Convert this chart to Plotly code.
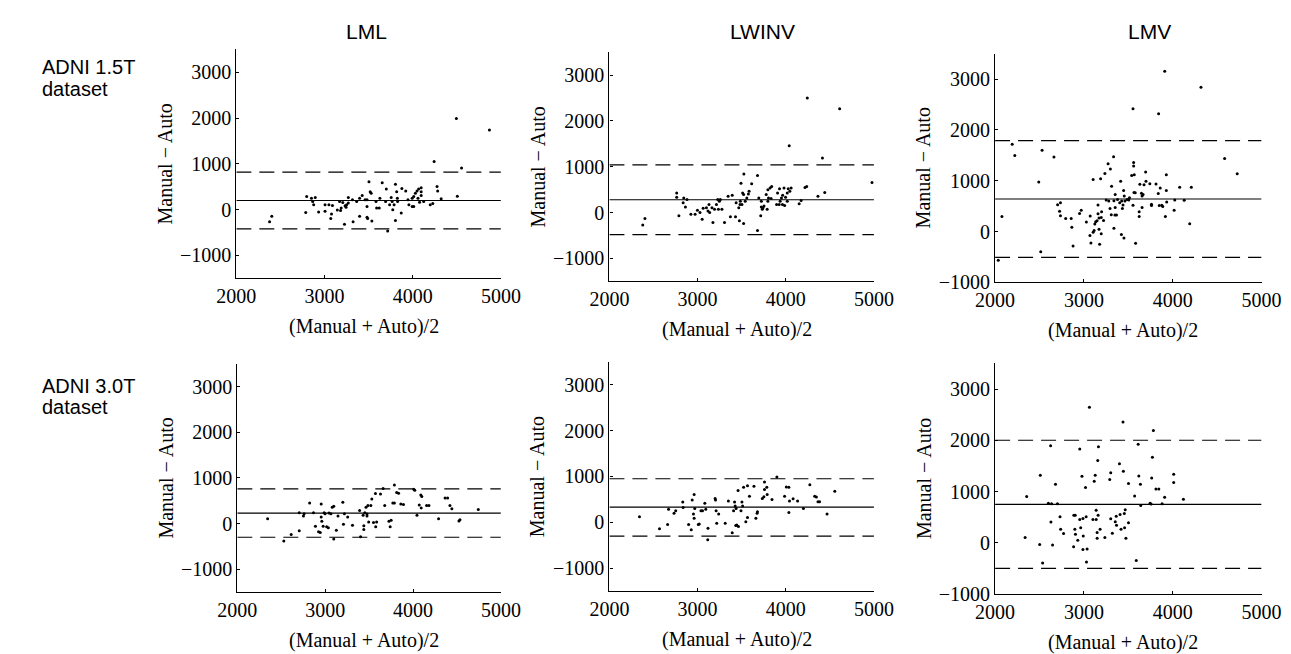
import plotly.graph_objects as go

W, H = 1291, 654

# ---------------- data ----------------
COLUMNS = ["LML", "LWINV", "LMV"]
ROWS = [["ADNI 1.5T", "dataset"], ["ADNI 3.0T", "dataset"]]
X_TICKS = [2000, 3000, 4000, 5000]
Y_TICKS = [-1000, 0, 1000, 2000, 3000]
X_TITLE = "(Manual + Auto)/2"
Y_TITLE = "Manual \u2212 Auto"

# ADNI 1.5T, LML
lml15_x = [4495, 4870, 4243, 4554, 4506, 4276, 4283, 4323, 4199, 4228, 3994, 4012, 4030, 4049, 4067,
           4096, 4096, 4096, 4078, 4125, 4060, 3994, 4012, 3957, 3946, 3921, 3877, 3870, 3818, 3804,
           3804, 3826, 3829, 3789, 3774, 3767, 3756, 3738, 3716, 3701, 3693, 3654, 3628, 3621, 3591,
           3584, 3537, 3529, 3518, 3504, 3482, 3482, 3489, 3460, 3482, 3427, 3398, 3398, 3365, 3317,
           3324, 3270, 3270, 3251, 3233, 3244, 3226, 3207, 3189, 3182, 3171, 3145, 3090, 3079, 3071,
           3050, 3006, 3006, 2933, 2877, 2866, 2895, 2852, 2787, 2798, 2402, 2377]
lml15_y = [1990, 1740, 1050, 907, 293, 507, 407, 236, 107, 136, 250, 286, 357, 407, 450,
           479, 393, 307, 164, 179, 250, 71, 71, 107, 214, 407, 464, -71, 393, 557,
           -236, 250, 179, 107, 0, 179, 264, 107, -464, 450, 179, 586, 250, 36, 36,
           179, -250, 357, 393, 607, 214, -164, -193, 214, 71, 307, 250, -143, 179, 214,
           -264, 264, 143, 107, 86, 50, -321, 157, 36, -21, 179, -7, 93, -93, -193,
           107, 107, -36, -50, 107, 179, 264, 250, -64, 286, -143, -264]
lml15_mean, lml15_upper, lml15_lower = 200, 820, -420

# ADNI 1.5T, LWINV
lwinv15_x = [4244, 4611, 4039, 4416, 4978, 4442, 4365, 4237, 4218, 4174, 4152, 4061, 4046, 4028, 4017,
             3998, 3980, 3965, 3962, 3987, 3951, 3936, 3929, 3907, 3896, 3925, 4017, 3840, 3822, 3797,
             3804, 3797, 3789, 3833, 3778, 3753, 3742, 3734, 3723, 3716, 3679, 3679, 3694, 3723, 3613,
             3584, 3576, 3558, 3540, 3525, 3511, 3522, 3492, 3481, 3503, 3485, 3467, 3437, 3430, 3474,
             3522, 3393, 3372, 3346, 3305, 3276, 3258, 3247, 3236, 3229, 3214, 3174, 3192, 3163, 3137,
             3129, 3118, 3100, 3063, 3052, 3027, 2998, 2972, 2924, 2880, 2843, 2836, 2862, 2788, 2763,
             2763, 2403, 2378]
lwinv15_y = [2500, 2264, 1457, 1193, 657, 436, 357, 571, 550, 264, 193, 536, 464, 521, 429,
             336, 536, 379, 179, 157, 321, 250, 521, 429, 179, 179, 250, 571, 536, 500,
             321, 250, 71, 307, 393, 143, 107, 71, 121, -71, -393, 807, 321, 250, 629,
             464, 407, 321, 250, 843, 429, 393, 643, 179, 179, 250, 107, 214, -93, -179,
             -236, 379, -93, 357, -214, 71, 286, 250, 71, 286, 179, -214, 71, 107, 0,
             179, 36, 107, 93, -143, 0, 50, -36, -36, 286, 321, 214, 121, -71, 429,
             336, -129, -271]
lwinv15_mean, lwinv15_upper, lwinv15_lower = 280, 1040, -480

# ADNI 1.5T, LMV
lmv15_x = [3910, 4318, 3553, 3841, 2193, 2222, 2529, 2663, 2492, 2077, 2036, 2514, 4584, 4726, 4209,
           4078, 4191, 4129, 4023, 4016, 3928, 3928, 3917, 3932, 3859, 3837, 3848, 3877, 3888, 3812,
           3742, 3699, 3695, 3677, 3666, 3655, 3648, 3630, 3761, 3761, 3655, 3622, 3622, 3553, 3578,
           3564, 3538, 3567, 3560, 3560, 3582, 3513, 3505, 3487, 3462, 3447, 3454, 3440, 3433, 3414,
           3425, 3403, 3378, 3352, 3352, 3367, 3349, 3338, 3334, 3312, 3308, 3294, 3280, 3251, 3236,
           3298, 3272, 3338, 3422, 3451, 3188, 3104, 3159, 3199, 3195, 3170, 3159, 3221, 3148, 3133,
           3123, 3115, 3104, 3170, 3195, 3071, 3068, 3079, 3177, 3028, 2970, 2951, 2857, 2864, 2878,
           2795, 2736, 2704, 2726, 2736]
lmv15_y = [3155, 2839, 2419, 2316, 1716, 1497, 1600, 1465, 974, 297, -568, -400, 1439, 1136, 871,
           871, 155, 613, 619, 419, 1116, 806, 297, 581, 858, 748, 510, 516, 490, 935,
           942, 987, 1174, 922, 729, 697, 755, 929, 535, 510, 471, 387, 297, 516, 761,
           768, 1103, 1116, 1290, 1361, -232, 665, 619, 632, 600, 806, 697, 523, 452, 987,
           600, 568, 632, 729, 471, 323, 323, 606, 1471, 890, 329, 452, 600, 619, 1142,
           1232, 1335, 65, -58, -129, 1039, 1026, 523, 387, 277, 264, 348, 219, 213, 193,
           148, 19, -13, 45, -45, 303, -77, -226, -252, 187, 419, 355, 258, 84, -284,
           258, 568, 529, 400, 310]
lmv15_mean, lmv15_upper, lmv15_lower = 640, 1790, -510

# ADNI 3.0T, LML
lml30_x = [2345, 2529, 2613, 2705, 2705, 2753, 2760, 2823, 2867, 2889, 2925, 2944, 2955, 2955, 2962,
           2977, 2988, 2999, 3017, 3036, 3043, 3065, 3080, 3098, 3098, 3127, 3146, 3201, 3208, 3219,
           3256, 3311, 3392, 3403, 3432, 3440, 3440, 3451, 3465, 3476, 3476, 3495, 3487, 3520, 3531,
           3550, 3572, 3575, 3586, 3630, 3678, 3660, 3726, 3740, 3751, 3770, 3788, 3788, 3814, 3836,
           3861, 3891, 4020, 4009, 4045, 4071, 4093, 4089, 4100, 4155, 4181, 4291, 4365, 4394, 4420,
           4442, 4523, 4534, 4743]
lml30_y = [108, -380, -237, -158, 237, 165, 215, 452, 237, -57, -179, -194, 431, 144, 50,
           -57, 237, 215, -72, -93, 230, 215, 359, 380, -337, -144, 165, 466, -14, 215,
           144, -36, 287, -287, 180, -50, -129, 237, 359, 208, 165, 36, 395, 395, 538,
           22, 660, -72, 36, 646, 395, 768, 50, -72, 72, 452, 452, 847, 682, 667,
           431, 416, 732, 754, 180, 409, 344, 624, 596, 395, 395, 108, 560, 560, 395,
           323, 57, 86, 309]
lml30_mean, lml30_upper, lml30_lower = 230, 760, -300

# ADNI 3.0T, LWINV
lwinv30_x = [2341, 2568, 2660, 2671, 2733, 2752, 2832, 2836, 2898, 2928, 2939, 2961, 2953, 2961, 2968,
             3008, 3019, 3038, 3056, 3082, 3093, 3118, 3115, 3199, 3203, 3210, 3239, 3217, 3313, 3349,
             3393, 3408, 3419, 3426, 3437, 3433, 3444, 3463, 3459, 3492, 3503, 3511, 3522, 3566, 3547,
             3566, 3588, 3639, 3661, 3675, 3679, 3734, 3752, 3759, 3759, 3785, 3789, 3844, 3899, 3987,
             4006, 4035, 4042, 4035, 4083, 4134, 4200, 4273, 4328, 4347, 4365, 4383, 4468, 4556]
lwinv30_y = [121, -143, -50, 286, 200, 250, 443, 321, -50, -164, 486, 607, 179, 86, 300,
             -50, -36, 250, 250, 414, 286, -129, -379, 521, 486, 250, 179, -21, -21, 464,
             -229, 250, 443, 357, 300, -71, -57, -93, 693, 250, 443, 357, 764, 800, 14,
             107, 571, 786, 86, 200, 229, 521, 557, 714, 879, 764, 607, 500, 986, 571,
             771, 764, 464, 214, 514, 464, 300, 821, 571, 550, 450, 450, 179, 679]
lwinv30_mean, lwinv30_upper, lwinv30_lower = 330, 950, -300

# ADNI 3.0T, LMV
lmv30_x = [2338, 2356, 2502, 2509, 2535, 2600, 2636, 2702, 2625, 2629, 2647, 2680, 2731, 2738, 2771,
           2884, 2887, 2902, 2898, 2905, 2931, 2953, 2953, 2964, 2978, 2989, 2989, 2993, 3018, 3025,
           3029, 3036, 3062, 3102, 3116, 3127, 3138, 3138, 3149, 3149, 3160, 3156, 3164, 3182, 3236,
           3291, 3302, 3302, 3320, 3353, 3364, 3367, 3400, 3407, 3418, 3440, 3444, 3455, 3465, 3458,
           3473, 3502, 3502, 3571, 3589, 3611, 3618, 3636, 3640, 3756, 3745, 3763, 3771, 3782, 3811,
           3843, 3880, 3909, 4011, 4011, 4120]
lmv30_y = [102, 901, -32, 1316, -396, 773, 760, 760, 1891, 403, -45, 1144, 505, 262, 179,
           -77, 537, 537, 262, 166, 51, 1828, 454, 294, 1297, 473, -134, 134, 1080, 505,
           -377, -121, 2646, 454, 1201, 1316, 633, 454, 198, 89, 537, 1604, 1872, 262, 102,
           1233, 1367, 466, 185, 409, 518, 339, 1540, 550, 262, 2358, 1393, 569, 645, 294,
           89, 1157, 390, 914, -345, 1923, 1304, 1144, 728, 754, 773, 1265, 1668, 2192, 1048,
           1048, 760, 888, 1335, 1176, 850]
lmv30_mean, lmv30_upper, lmv30_lower = 750, 2000, -500

PANELS = [
    [(lml15_x, lml15_y, lml15_mean, lml15_upper, lml15_lower, [-1500, 3500]),
     (lwinv15_x, lwinv15_y, lwinv15_mean, lwinv15_upper, lwinv15_lower, [-1500, 3500]),
     (lmv15_x, lmv15_y, lmv15_mean, lmv15_upper, lmv15_lower, [-1000, 3500])],
    [(lml30_x, lml30_y, lml30_mean, lml30_upper, lml30_lower, [-1500, 3500]),
     (lwinv30_x, lwinv30_y, lwinv30_mean, lwinv30_upper, lwinv30_lower, [-1500, 3500]),
     (lmv30_x, lmv30_y, lmv30_mean, lmv30_upper, lmv30_lower, [-1000, 3500])],
]
X_RANGE = [2000, 5000]

# ---------------- layout (pixel boxes of each plot area) ----------------
# (left, right, top, bottom) in pixels
BOXES = [
    [(215, 488, 42, 275), (600, 873, 45, 278), (998, 1273, 46.5, 279)],
    [(216, 488, 362, 594), (600, 873, 360, 593), (998, 1273, 361.5, 596)],
]
TITLE_X = [349, 758, 1157]
SERIF = "Liberation Serif"
SANS = "Liberation Sans"


def px(xp):
    return xp / W


def py(yp):
    return 1 - yp / H


fig = go.Figure()
annotations = []
idx = 0
for r in range(2):
    for c in range(3):
        idx += 1
        xs, ys, mean, upper, lower, yr = PANELS[r][c]
        l, rr, t, b = BOXES[r][c]
        xa = "x" if idx == 1 else f"x{idx}"
        ya = "y" if idx == 1 else f"y{idx}"
        xk = "xaxis" if idx == 1 else f"xaxis{idx}"
        yk = "yaxis" if idx == 1 else f"yaxis{idx}"
        for val, dash in ((upper, "15px,8px"), (lower, "15px,8px"), (mean, "solid")):
            fig.add_trace(go.Scatter(x=X_RANGE, y=[val, val], mode="lines",
                                     line=dict(color="black", width=1.2, dash=dash),
                                     xaxis=xa, yaxis=ya, showlegend=False, hoverinfo="skip"))
        fig.add_trace(go.Scatter(x=xs, y=ys, mode="markers",
                                 marker=dict(color="black", size=3),
                                 xaxis=xa, yaxis=ya, showlegend=False))
        fig.layout[xk] = dict(domain=[px(l), px(rr)], range=X_RANGE, tickvals=X_TICKS,
                              anchor=ya, showline=True, linecolor="black", linewidth=1.2,
                              ticks="inside", ticklen=3, tickcolor="black", showgrid=False,
                              zeroline=False, tickfont=dict(family=SERIF, size=20, color="black"))
        fig.layout[yk] = dict(domain=[py(b), py(t)], range=yr, tickvals=Y_TICKS,
                              anchor=xa, showline=True, linecolor="black", linewidth=1.2,
                              ticks="inside", ticklen=3, tickcolor="black", showgrid=False,
                              zeroline=False, tickfont=dict(family=SERIF, size=20, color="black"))
        # axis titles
        annotations.append(dict(text=X_TITLE, xref="paper", yref="paper",
                                x=px((l + rr) / 2 - 5), y=py(b + 49), xanchor="center", yanchor="middle",
                                showarrow=False, font=dict(family=SERIF, size=20, color="black")))
        annotations.append(dict(text=Y_TITLE, xref="paper", yref="paper", textangle=-90,
                                x=px(l - 74), y=py((t + b) / 2), xanchor="center", yanchor="middle",
                                showarrow=False, font=dict(family=SERIF, size=20, color="black")))

# column titles
for c, name in enumerate(COLUMNS):
    annotations.append(dict(text=name, xref="paper", yref="paper",
                            x=px(TITLE_X[c]), y=py(24), xanchor="center", yanchor="middle",
                            showarrow=False, font=dict(family=SANS, size=21, color="black")))

# row labels
for r, lines in enumerate(ROWS):
    top = [53, 377][r]
    for k, line in enumerate(lines):
        annotations.append(dict(text=line, xref="paper", yref="paper",
                                x=px(12), y=py(top + 7 + k * 22), xanchor="left", yanchor="middle",
                                showarrow=False, font=dict(family=SANS, size=20, color="black")))

fig.update_layout(width=W, height=H, margin=dict(l=0, r=0, t=0, b=0),
                  paper_bgcolor="white", plot_bgcolor="white",
                  annotations=annotations, showlegend=False)

fig.write_html("out.html")
